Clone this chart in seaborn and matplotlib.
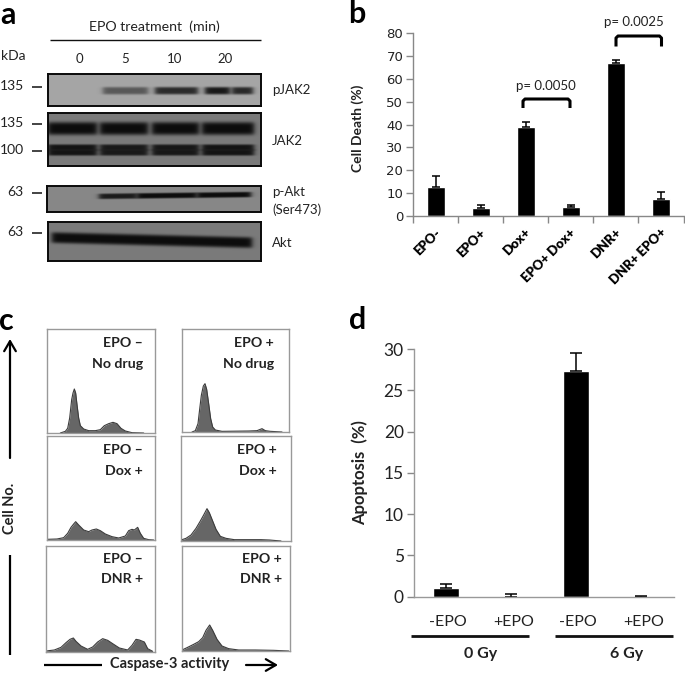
import numpy as np
import pandas as pd
import matplotlib
matplotlib.use("Agg")
import matplotlib.pyplot as plt
from matplotlib.colors import LinearSegmentedColormap
from matplotlib.transforms import ScaledTranslation
import seaborn as sns

sns.set_theme(style="white")
plt.rcParams['font.family'] = ['Lato', 'DejaVu Sans']

# ---- panel b data
b_categories = ["EPO-", "EPO+", "Dox+", "EPO+ Dox+", "DNR+", "DNR+ EPO+"]
b_values = [12.8, 3.3, 39.0, 3.8, 67.0, 7.5]
b_errors = [4.6, 1.4, 2.0, 1.1, 1.5, 3.0]
# ---- panel d data
d_categories = ["-EPO", "+EPO", "-EPO ", "+EPO "]
d_values = [1.05, 0.02, 27.3, 0.02]
d_errors = [0.5, 0.28, 2.2, 0.1]
# ---- panel c histograms (channel, cell count)
c1x = [40,55,62,68,74,78,82,86,90,95,100,110,125,145,160,172,185,198,210,222,235,255,290]
c1y = [0,5,14,45,100,120,132,120,85,45,22,12,7,7,10,22,28,32,28,14,6,1,0]
c2x = [30,40,48,52,58,64,69,74,80,86,92,100,120,200,225,240,250,265,300]
c2y = [0,4,25,60,110,138,145,128,85,40,15,6,2,3,4,10,4,2,0]
c3x = [0,30,50,62,72,80,86,95,110,125,135,148,160,175,195,215,235,245,255,262,272,280,290,305,320]
c3y = [2,3,7,20,38,48,55,45,30,25,30,33,28,18,10,6,12,28,32,30,38,20,5,1,0]
c4x = [0,15,30,45,58,68,78,85,95,105,118,135,160,200,240,265,300]
c4y = [3,8,18,38,60,78,97,85,60,35,14,8,4,4,4,3,0]
c5x = [0,25,45,60,72,82,90,105,125,140,155,170,185,200,220,245,258,270,280,295,305,320]
c5y = [3,6,14,28,38,42,32,18,8,15,30,40,35,25,12,6,20,38,36,30,10,2]
c6x = [0,15,35,50,62,72,83,92,105,120,140,170,220,275,320]
c6y = [3,10,20,28,40,62,78,62,35,15,7,3,3,2,0]
c_titles = [("EPO –", "No drug"), ("EPO +", "No drug"), ("EPO –", "Dox +"),
            ("EPO +", "Dox +"), ("EPO –", "DNR +"), ("EPO +", "DNR +")]
# ---- panel a blot lanes: (start, end, strength)
pjak2_lanes = [(55, 100, 0.5), (107, 150, 0.8), (157, 182, 0.92), (184, 205, 0.82)]
jak2_lanes = [(0, 49, 1.0), (52, 100, 1.0), (104, 151, 1.0), (154, 206, 1.0)]
jak2_lower = [(0, 49, 0.93), (52, 100, 0.88), (104, 151, 0.9), (154, 206, 0.93)]
pakt_lanes = [(52, 90, 0.88), (90, 150, 1.0), (150, 204, 1.0)]
akt_lanes = [(4, 204, 1.0)]
lane_labels = ["0", "5", "10", "20"]

W, H = 685, 674
fig = plt.figure(figsize=(W / 100, H / 100), dpi=100, facecolor="white")


def axpx(x0, y0, x1, y1):
    return fig.add_axes([x0 / W, 1 - y1 / H, (x1 - x0) / W, (y1 - y0) / H])


gray = LinearSegmentedColormap.from_list("blot", ["#000000", "#ffffff"])


def blot(box, bg, bands):
    x0, y0, x1, y1 = box
    w, h = int(x1 - x0), int(y1 - y0)
    xx, yy = np.meshgrid(np.arange(w) + .5, np.arange(h) + .5)
    clear = np.ones_like(xx, dtype=float)
    for yc, half, slope, lanes in bands:
        yprof = np.exp(-((yy - yc - slope * xx) / half) ** 4)
        for a, b, s in lanes:
            xprof = 1 / (1 + np.exp((a - xx) / 1.5)) * 1 / (1 + np.exp((xx - b) / 1.5))
            clear *= 1 - s * xprof * yprof
    img = 12 + (bg - 12) * clear
    ax = axpx(*box)
    sns.heatmap(img, ax=ax, cmap=gray, vmin=0, vmax=255, cbar=False,
                xticklabels=False, yticklabels=False)
    for s in ax.spines.values():
        s.set_visible(True)
        s.set_color("#0a0a0a")
        s.set_linewidth(1.4)
    return ax


# ---- panel a
blot((48, 74, 261, 106), 165, [(16.7, 3.8, 0, pjak2_lanes)])
blot((48, 113, 261, 166), 122, [(15.5, 6.5, 0, jak2_lanes),
                                (34.5, 3.2, 0, jak2_lower), (39.5, 3.2, 0, jak2_lower)])
blot((47, 186, 261, 212), 135, [(11, 2.8, -0.012, pakt_lanes)])
blot((48, 222, 261, 261), 122, [(15.5, 5.5, 0.025, akt_lanes)])

# ---- panel b
dfb = pd.DataFrame({"cat": b_categories, "val": b_values})
axb = axpx(413, 33.3, 683.5, 216)
sns.barplot(data=dfb, x="cat", y="val", color="black", saturation=1, width=0.4, ax=axb)
axb.errorbar(range(6), b_values, yerr=[np.zeros(6), b_errors], fmt="none",
             ecolor="black", elinewidth=1.1, capsize=3, capthick=1.1)
axb.set_xlim(-0.5, 5.5)
axb.set_ylim(0, 80)
axb.set_xlabel("")
axb.set_ylabel("")
axb.set_yticks(range(0, 81, 10))
axb.tick_params(axis="y", left=True, length=5, width=1, color="#888888", labelsize=9.5,
                labelcolor="#222222", pad=2)
axb.set_yticklabels([str(v) for v in range(0, 81, 10)], family="DejaVu Sans")
axb.set_xticks(np.arange(-0.5, 6), labels=[""] * 7)
axb.tick_params(axis="x", which="major", bottom=True, length=5, width=1, color="#888888")
axb.set_xticks(range(6), labels=b_categories, minor=True)
axb.tick_params(axis="x", which="minor", bottom=False, length=0, pad=9)
shift_b = ScaledTranslation(3 / 100, -2 / 100, fig.dpi_scale_trans)
for t in axb.get_xticklabels(minor=True):
    t.set(rotation=45, ha="right", va="center", rotation_mode="anchor",
          fontsize=9.5, fontweight="heavy", color="black")
    t.set_transform(t.get_transform() + shift_b)
sns.despine(ax=axb)
for s in ("left", "bottom"):
    axb.spines[s].set_color("#888888")
    axb.spines[s].set_linewidth(1)

# ---- panel c
c_boxes = [(47, 329, 155, 433), (182, 329, 289, 432), (47, 436, 155, 540),
           (181, 436, 291, 541), (46, 546, 155, 652), (182, 546, 290, 651)]
c_x = [c1x, c2x, c3x, c4x, c5x, c6x]
c_y = [c1y, c2y, c3y, c4y, c5y, c6y]
for box, xs, ys in zip(c_boxes, c_x, c_y):
    ax = axpx(*box)
    sns.lineplot(x=xs, y=ys, ax=ax, color="#3c3c3c", lw=0.8, errorbar=None)
    ax.fill_between(xs, ys, color="#666666", lw=0)
    ax.set_xlim(0, (box[2] - box[0]) * 3)
    ax.set_ylim(0, (box[3] - box[1]) * 3)
    ax.set_xticks([])
    ax.set_yticks([])
    for s in ax.spines.values():
        s.set_visible(True)
        s.set_color("#999999")
        s.set_linewidth(1)

# ---- panel d
dfd = pd.DataFrame({"cat": d_categories, "val": d_values})
axd = axpx(413.5, 349, 674, 596.7)
sns.barplot(data=dfd, x="cat", y="val", color="black", saturation=1, width=0.4, ax=axd)
axd.errorbar(range(4), d_values, yerr=[np.zeros(4), d_errors], fmt="none",
             ecolor="black", elinewidth=1.1, capsize=4, capthick=1.1)
axd.set_xlim(-0.5, 3.5)
axd.set_ylim(0, 30)
axd.set_xlabel("")
axd.set_ylabel("")
axd.set_yticks(range(0, 31, 5))
axd.tick_params(axis="y", left=True, length=5, width=1, color="#888888", labelsize=12.5,
                labelcolor="#222222", pad=2)
axd.set_xticks(range(4), labels=[c.strip() for c in d_categories])
axd.tick_params(axis="x", bottom=False, pad=7, labelsize=11.5, labelcolor="#222222")
shift_d = ScaledTranslation(2 / 100, 0, fig.dpi_scale_trans)
for t in axd.get_xticklabels():
    t.set_transform(t.get_transform() + shift_d)
sns.despine(ax=axd)
for s in ("left", "bottom"):
    axd.spines[s].set_color("#999999")
    axd.spines[s].set_linewidth(1)

# ---- overlay: letters, annotation text, rules, brackets, arrows
ov = fig.add_axes([0, 0, 1, 1], zorder=10)
ov.set_xlim(0, W)
ov.set_ylim(H, 0)
ov.axis("off")
ov.patch.set_alpha(0)
ink = "#222222"


def T(x, y, s, size=8.5, weight="normal", ha="center", rot=0, color=ink):
    ov.text(x, y, s, fontsize=size, fontweight=weight, ha=ha, va="center", rotation=rot, color=color)


def L(xs, ys, lw=1.0, color="#111111"):
    ov.plot(xs, ys, color=color, lw=lw, solid_capstyle="butt", solid_joinstyle="round")


for x, y, s in [(8, 15, "a"), (357, 14, "b"), (6, 321, "c"), (358, 320, "d")]:
    T(x, y, s, size=22, weight="bold", color="black")

# a
T(154, 27, "EPO treatment  (min)", size=10.2)
L([50, 261], [40, 40], 1.0)
T(13, 56, "kDa", size=10)
for x, s in zip([79, 125, 175, 225], lane_labels):
    T(x, 59, s, size=9.5)
for y, s, xt in [(86, "135", 12), (123, "135", 12), (150, "100", 12), (192, "63", 15), (232, "63", 15)]:
    T(xt, y, s, size=10)
    L([32, 42], [y + 1, y + 1], 1.1)
for y, s in [(90, "pJAK2"), (141, "JAK2"), (192, "p-Akt"), (210, "(Ser473)"), (243, "Akt")]:
    T(272, y, s, size=9.5, ha="left")

# b
T(358, 128, "Cell Death (%)", size=10, weight="bold", rot=90)
for x0, x1, ytop, ybot, lab, yt, xt in [(523, 570, 99, 108, "p= 0.0050", 86, 546),
                                       (616, 661.5, 36, 46.5, "p= 0.0025", 22, 634)]:
    ov.plot([x0, x0, x0 + 2, x1 - 2, x1, x1], [ybot, ytop + 2, ytop, ytop, ytop + 2, ybot],
            color="black", lw=2.2, solid_joinstyle="round", solid_capstyle="butt")
    T(xt, yt, lab, size=9.5)

# c
for (box, (l1, l2), xr) in zip(c_boxes, c_titles, [143, 274, 143, 277, 143, 282]):
    T(xr, box[1] + 14 if box[1] != 546 else 559, l1, size=10.2, weight="bold", ha="right")
    T(xr, box[1] + 35 if box[1] != 546 else 579, l2, size=10.2, weight="bold", ha="right")
ov.annotate("", xy=(10, 339), xytext=(10, 458),
            arrowprops=dict(arrowstyle="->,head_width=0.35,head_length=0.6", lw=1.6, color="black", shrinkA=0, shrinkB=0))
L([10, 10], [555, 655], 1.6, "black")
T(10, 508, "Cell No.", size=10.5, weight="bold", rot=90)
L([44, 102], [665, 665], 1.6, "black")
T(170, 664, "Caspase-3 activity", size=10.5, weight="bold")
ov.annotate("", xy=(278, 665), xytext=(246, 665),
            arrowprops=dict(arrowstyle="->,head_width=0.35,head_length=0.6", lw=1.6, color="black", shrinkA=0, shrinkB=0))

# d
T(360, 473, "Apoptosis  (%)", size=12, weight="bold", rot=90)
L([411, 529], [636, 636], 2)
L([555, 673], [636, 636], 2)
T(481, 654, "0 Gy", size=11.5, weight="bold")
T(627, 654, "6 Gy", size=11.5, weight="bold")

fig.savefig("out.png", dpi=100, facecolor="white")
